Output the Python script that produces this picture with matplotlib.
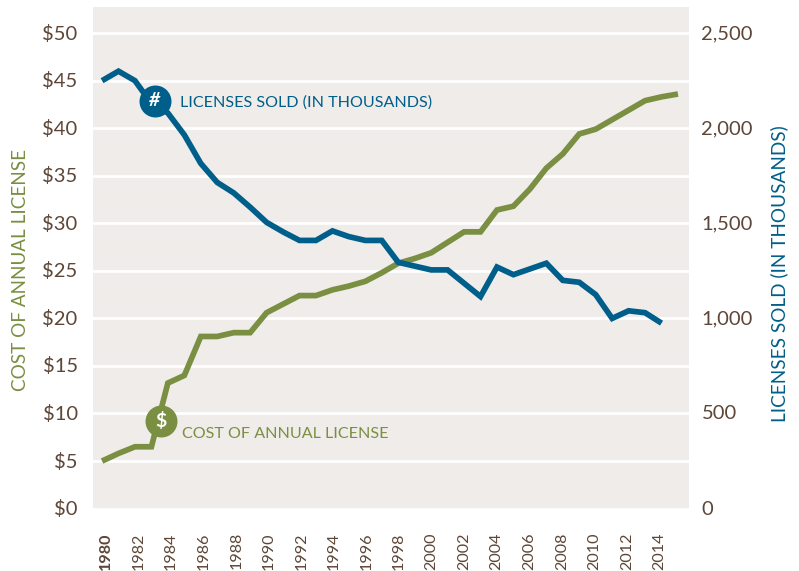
import numpy as np
import matplotlib
matplotlib.use("Agg")
import matplotlib.pyplot as plt
from matplotlib.transforms import ScaledTranslation

plt.rcParams['font.family'] = ['Lato', 'DejaVu Sans']

# data
years = np.arange(1980, 2016)
cost = [5, 5.8, 6.5, 6.5, 13.2, 14, 18.1, 18.1, 18.5, 18.5,
        20.6, 21.5, 22.4, 22.4, 23, 23.4, 23.9, 24.8, 25.8, 26.3,
        26.9, 28, 29.1, 29.1, 31.4, 31.8, 33.6, 35.8, 37.3, 39.4,
        39.9, 40.9, 41.9, 42.9, 43.3, 43.6]
lic_years = np.arange(1980, 2015)
licenses = [2250, 2300, 2250, 2130, 2080, 1965, 1815, 1715, 1660, 1585,
            1505, 1455, 1410, 1410, 1460, 1430, 1410, 1410, 1295, 1275,
            1255, 1255, 1185, 1115, 1270, 1230, 1260, 1290, 1200, 1190,
            1125, 1000, 1040, 1030, 975]
year_ticks = np.arange(1980, 2015, 2)
cost_ticks = np.arange(0, 55, 5)
lic_ticks = np.arange(0, 3000, 500)

green = '#7a8f42'
blue = '#005f8a'
brown = '#5d4637'
bg = '#efecea'

W, H = 799, 571
fig = plt.figure(figsize=(W/100, H/100), dpi=100)
ax = fig.add_axes([93/W, 1-510/H, 596/W, 503/H])
ax.set_facecolor(bg)
ax.set_xlim(1979.45, 2015.67)
ax.set_ylim(-0.15, 52.75)

ax.grid(axis='y', color='white', lw=2)
ax.set_axisbelow(True)
for s in ax.spines.values():
    s.set_visible(False)

ax.plot(years, cost, color=green, lw=4.1, solid_joinstyle='miter', solid_capstyle='butt', zorder=3)

ax2 = ax.twinx()
ax2.set_ylim(-7.5, 2637.5)
for s in ax2.spines.values():
    s.set_visible(False)
ax2.plot(lic_years, licenses, color=blue, lw=4.1, solid_joinstyle='miter', solid_capstyle='butt', zorder=3)

ax.set_yticks(cost_ticks)
ax.set_yticklabels(['$%d' % c for c in cost_ticks])
ax.tick_params(axis='y', length=0, pad=11, labelsize=14.5, labelcolor=brown)
ax2.set_yticks(lic_ticks)
ax2.set_yticklabels([f'{v:,}' for v in lic_ticks])
ax2.tick_params(axis='y', length=0, pad=9, labelsize=14.5, labelcolor=brown)
up = ScaledTranslation(0, 1/100, fig.dpi_scale_trans)
for lab in ax.get_yticklabels() + ax2.get_yticklabels():
    lab.set_transform(lab.get_transform() + up)

ax.set_xticks(year_ticks)
ax.set_xticklabels(year_ticks, rotation=90, fontsize=11.6, color=brown)
ax.tick_params(axis='x', length=0, pad=16)
n = len(year_ticks)
for i, lab in enumerate(ax.get_xticklabels()):
    shift = (4 - 6*i/(n-1))/100
    lab.set_transform(lab.get_transform() + ScaledTranslation(shift, 0, fig.dpi_scale_trans))
ax.get_xticklabels()[0].set_fontweight('bold')

fig.text(21/W, 1-270/H, 'COST OF ANNUAL LICENSE', rotation=90, color=green, fontsize=13.6,
         ha='center', va='center')
fig.text(779/W, 1-274/H, 'LICENSES SOLD (IN THOUSANDS)', rotation=90, color=blue, fontsize=13.7,
         ha='center', va='center')

# round badges with their series names
ax2.scatter([1983.2], [2145], s=530, color=blue, zorder=5, linewidths=0)
ax2.text(1983.2, 2145, '#', color='white', fontsize=14, fontweight='bold', style='italic',
         ha='center', va='center', zorder=6)
ax2.text(1984.75, 2137, 'LICENSES SOLD (IN THOUSANDS)', color=blue, fontsize=11.6,
         ha='left', va='center', zorder=6)
ax2.scatter([1983.6], [460], s=530, color=green, zorder=5, linewidths=0)
ax2.text(1983.6, 460, '$', color='white', fontsize=14, fontweight='bold',
         ha='center', va='center', zorder=6)
ax2.text(1984.85, 393, 'COST OF ANNUAL LICENSE', color=green, fontsize=11.6,
         ha='left', va='center', zorder=6)

fig.savefig('out.png', dpi=100)
